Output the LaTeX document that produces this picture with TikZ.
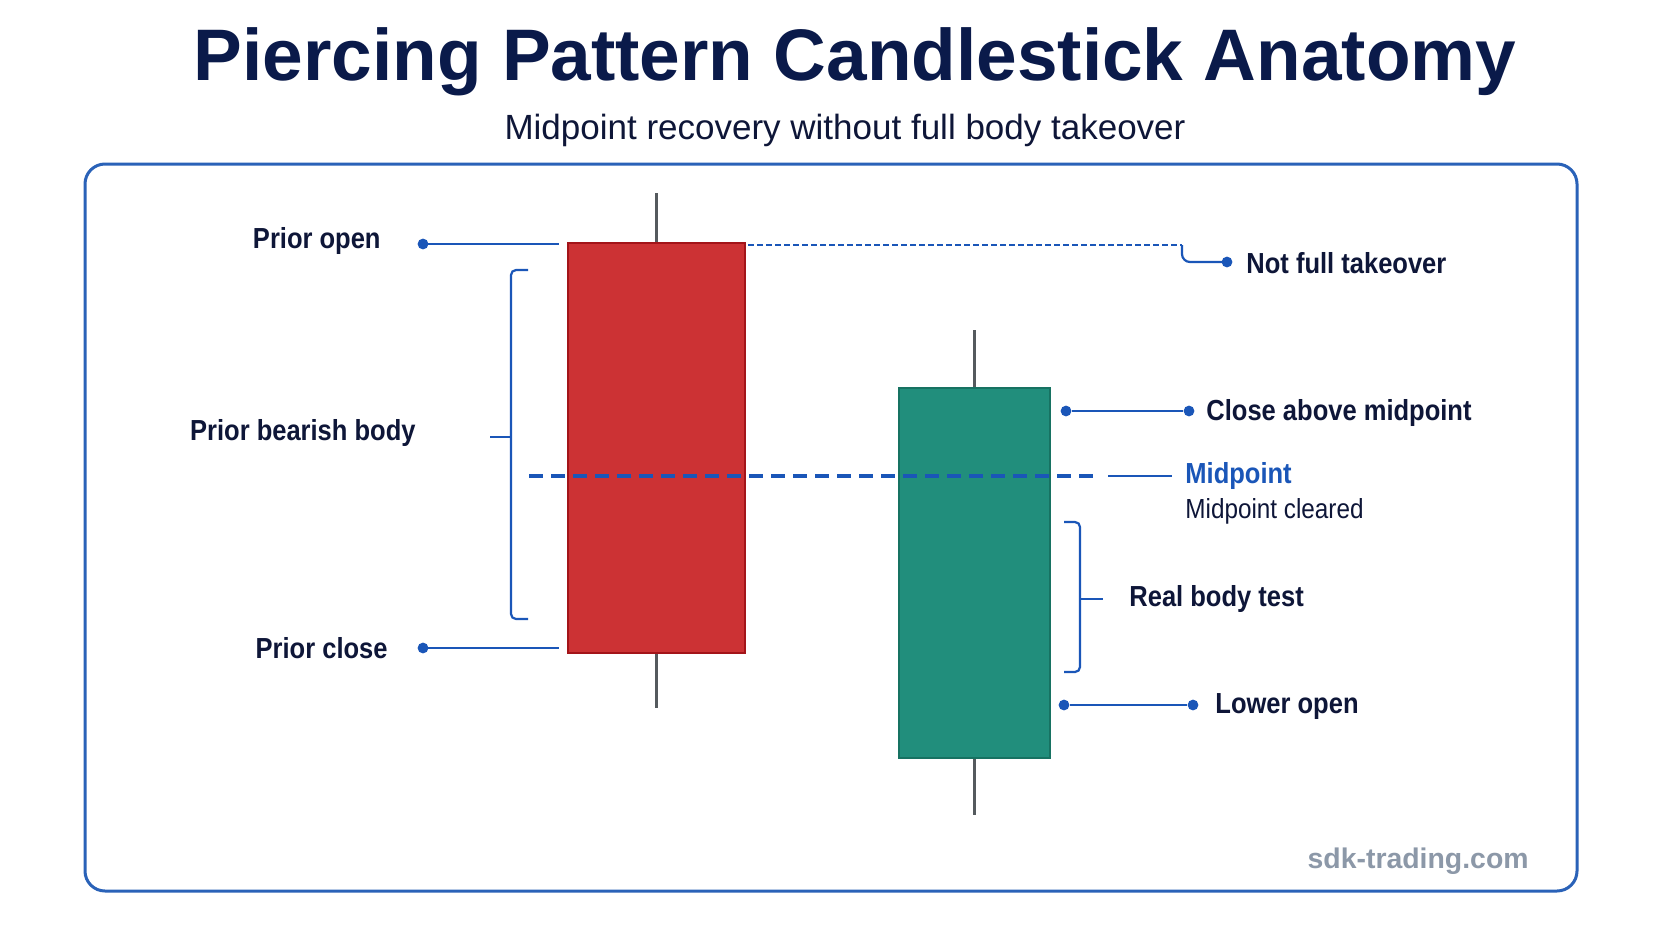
\documentclass[tikz,border=0pt]{standalone}
\usepackage{fontspec}
\setmainfont{Liberation Sans}
\newfontfamily\condfont{Liberation Sans}[FakeStretch=0.88]
\usetikzlibrary{positioning,arrows.meta,calc}
\definecolor{navy}{HTML}{0E1638}
\definecolor{titlec}{HTML}{0A1A4A}
\definecolor{guide}{HTML}{1A56B8}
\definecolor{framec}{HTML}{2A62B8}
\definecolor{bearc}{HTML}{CC3234}
\definecolor{beard}{HTML}{A31419}
\definecolor{bullc}{HTML}{218E7C}
\definecolor{bulld}{HTML}{177262}
\definecolor{wickc}{HTML}{555A5E}
\definecolor{markc}{HTML}{8C98A8}

\begin{document}
\begin{tikzpicture}[x=0.5pt, y=-0.5pt,
  lbl/.style={font=\condfont\bfseries\fontsize{14.5}{16}\selectfont,
              text=navy, inner sep=0pt},
  body/.style={draw, line width=1.2pt, inner sep=0pt},
  wick/.style={wickc, line width=1.6pt},
  guideline/.style={guide, line width=1.1pt},
  dot/.style={circle, fill=guide, minimum size=5.4pt, inner sep=0pt},
  bracket/.style={guide, line width=1.1pt, rounded corners=2.5pt}
]
\useasboundingbox[fill=white] (0,0) rectangle (1659,948);
% ---- heading ----
\node[font=\bfseries\fontsize{36.5}{40}\selectfont, text=titlec]
  (title) at (855,62) {Piercing Pattern Candlestick Anatomy};
\node[font=\fontsize{17.5}{20}\selectfont, text=navy]
  (subtitle) at (845,130) {Midpoint recovery without full body takeover};
\draw[framec, line width=1.5pt, rounded corners=10pt]
  (85,164) rectangle (1577,891);

% ---- the two candles ----
\node[body, draw=beard, fill=bearc, minimum width=88.5pt, minimum height=205pt]
  (RB) at (656.5,448) {};
\node[body, draw=bulld, fill=bullc, minimum width=75.5pt, minimum height=185pt]
  (GB) at (974.5,573) {};
\coordinate (RWt) at (656.5,193);
\coordinate (RWb) at (656.5,708);
\coordinate (GWt) at (974.5,330);
\coordinate (GWb) at (974.5,815);
\draw[wick] (RWt) -- (RB.north);
\draw[wick] (RB.south) -- (RWb);
\draw[wick] (GWt) -- (GB.north);
\draw[wick] (GB.south) -- (GWb);

% ---- left callouts ----
\node[dot] (POd) at (423,244) {};
\coordinate (POe) at (559,244);
\node[lbl, anchor=east] (PO) at (381,241) {Prior open};
\draw[guideline] (POd.center) -- (POe);

\node[dot] (PCd) at (423,648) {};
\coordinate (PCe) at (559,648);
\node[lbl, anchor=east] (PC) at (388,648) {Prior close};
\draw[guideline] (PCd.center) -- (PCe);

\coordinate (LBt) at (528,270);
\coordinate (LBm) at (511,437);
\coordinate (LBb) at (528,619);
\coordinate (LBtip) at (490,437);
\draw[bracket] (LBt) -| (LBm) |- (LBb);
\draw[bracket] (LBm) -- (LBtip);
\node[lbl, anchor=east] (PBB) at (416,433) {Prior bearish body};

% ---- midpoint ----
\coordinate (MLa) at (529,476);
\coordinate (MLb) at (1100,476);
\coordinate (MLc) at (1108,476);
\node[lbl, anchor=west, text=guide] (MID) at (1185,476) {Midpoint};
\node[font=\condfont\fontsize{13.8}{15}\selectfont, text=navy, anchor=west,
      inner sep=0pt] (MIDc) at (1185,511) {Midpoint cleared};
\draw[guide, line width=1.6pt, dash pattern=on 7pt off 4pt] (MLa) -- (MLb);
\draw[guideline] (MLc) -- ($(MID.west)+(-13,0)$);

% ---- right callouts ----
\coordinate (NFa) at (748,245);
\coordinate (NFb) at (1182,245);
\node[dot] (NFd) at (1227,262) {};
\node[lbl, anchor=west] (NF) at (1246,263) {Not full takeover};
\draw[guide, line width=0.8pt, dash pattern=on 3pt off 1.5pt] (NFa) -- (NFb);
\draw[guideline, rounded corners=4pt] (NFb) |- (NFd.center);

\foreach \nm/\ya/\xa/\xb/\xl/\txt in {
    CA/411/1066/1189/1206/Close above midpoint,
    LO/705/1064/1193/1215/Lower open}{
  \node[dot] (\nm a) at (\xa,\ya) {};
  \node[dot] (\nm b) at (\xb,\ya) {};
  \node[lbl, anchor=west] (\nm) at (\xl,\ya+2) {\txt};
  \draw[guideline] (\nm a) -- (\nm b);
}

\coordinate (RBt) at (1064,522);
\coordinate (RBm) at (1080,599);
\coordinate (RBb) at (1064,672);
\coordinate (RBtip) at (1103,599);
\draw[bracket] (RBt) -| (RBm) |- (RBb);
\draw[bracket] (RBm) -- (RBtip);
\node[lbl, anchor=west] (RBT) at (1129,599) {Real body test};

% ---- watermark ----
\node[font=\bfseries\fontsize{14.2}{16}\selectfont, text=markc, anchor=east,
      inner sep=0pt] (mark) at (1529,861) {sdk-trading.com};
\end{tikzpicture}
\end{document}
